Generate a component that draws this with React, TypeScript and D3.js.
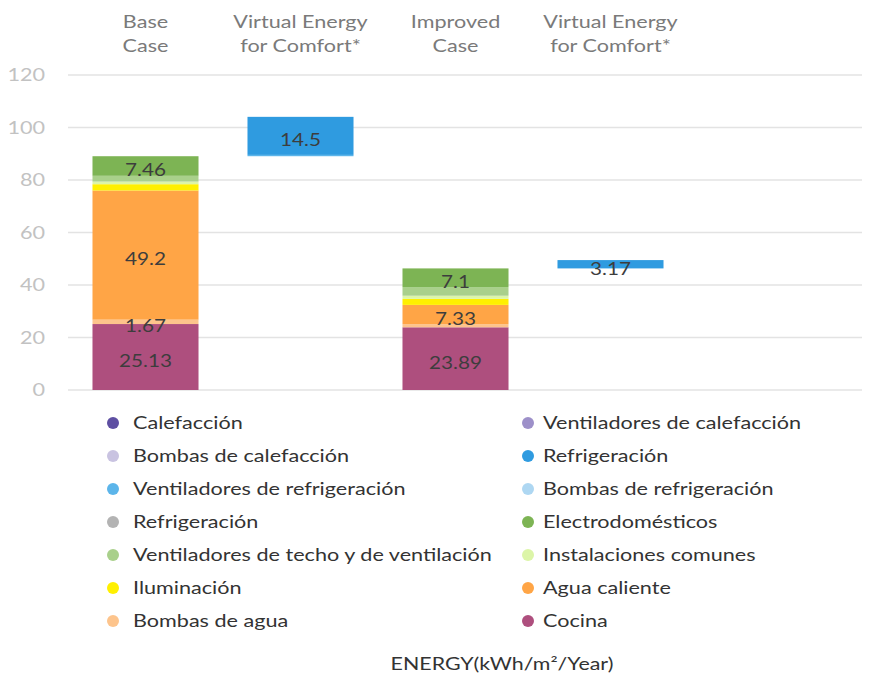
import { useRef, useEffect } from "react";
import * as d3 from "d3";

const CATEGORIES = ["base", "virtual1", "improved", "virtual2"];
const HEADERS = [
  ["Base", "Case"],
  ["Virtual Energy", "for Comfort*"],
  ["Improved", "Case"],
  ["Virtual Energy", "for Comfort*"],
];

const SERIES = [
  "Calefacción",
  "Ventiladores de calefacción",
  "Bombas de calefacción",
  "Refrigeración",
  "Ventiladores de refrigeración",
  "Bombas de refrigeración",
  "Refrigeración ",
  "Electrodomésticos",
  "Ventiladores de techo y de ventilación",
  "Instalaciones comunes",
  "Iluminación",
  "Agua caliente",
  "Bombas de agua",
  "Cocina",
];

const COLORS = [
  "#5e4fa2", "#9d90c9", "#c9c3e1", "#2f9be0", "#5cb5ea", "#aed7f2", "#b3b3b3",
  "#7db454", "#a9d08b", "#dcf5a8", "#fff000", "#ffa546", "#fdc48c", "#ae4f7e",
];

// values per series, in SERIES order
const BASE_CASE = [0, 0, 0, 0, 0, 0, 0, 7.46, 2.2, 1.0, 2.4, 49.2, 1.67, 25.13];
const VIRTUAL_1 = [0, 0, 0, 14.5, 0.5, 0, 0, 0, 0, 0, 0, 0, 0, 0];
const IMPROVED_CASE = [0, 0, 0, 0, 0, 0, 0, 7.1, 3.3, 1.2, 2.3, 7.33, 1.2, 23.89];
const VIRTUAL_2 = [0, 0, 0, 3.17, 0, 0, 0, 0, 0, 0, 0, 0, 0, 0];

const LABELED = ["Refrigeración", "Electrodomésticos", "Agua caliente", "Bombas de agua", "Cocina"];
const Y_TICKS = [0, 20, 40, 60, 80, 100, 120];

export default function App() {
  const svgRef = useRef<SVGSVGElement>(null);

  useEffect(() => {
    if (!svgRef.current) return;
    const W = 877, H = 680;
    const svg = d3.select(svgRef.current);
    svg.selectAll("*").remove();
    svg.attr("width", W).attr("height", H);

    const font = "Lato, 'Open Sans', sans-serif";
    const SX = 1.2; // the source text is a bit wider than Lato

    // text placed at (x,y), stretched horizontally
    const addText = (
      parent: d3.Selection<any, any, any, any>,
      x: number, y: number, txt: string,
      size: number, fill: string, anchor = "start", sx = SX,
    ) =>
      parent.append("text")
        .attr("transform", `translate(${x},${y}) scale(${sx},1)`)
        .attr("dy", "0.35em")
        .attr("text-anchor", anchor)
        .style("font-family", font).style("font-size", `${size}px`).style("fill", fill)
        .text(txt);

    const valuesByCat = [BASE_CASE, VIRTUAL_1, IMPROVED_CASE, VIRTUAL_2];
    const rows = CATEGORIES.map((c, i) => {
      const r: Record<string, number | string> = { cat: c };
      SERIES.forEach((s, j) => (r[s] = valuesByCat[i][j]));
      return r;
    });
    // virtual bars float on top of the preceding case
    const offsets = [0, d3.sum(BASE_CASE), 0, d3.sum(IMPROVED_CASE)];

    const x = d3.scaleBand<string>().domain(CATEGORIES).range([68, 688])
      .paddingInner(0.316).paddingOuter(0.158);
    const y = d3.scaleLinear().domain([0, 120]).range([390, 75]);

    // grid
    svg.append("g").selectAll("line").data(Y_TICKS).join("line")
      .attr("x1", 68).attr("x2", 862)
      .attr("y1", (d) => y(d)).attr("y2", (d) => y(d))
      .attr("stroke", "#e3e3e3").attr("stroke-width", 1.5);

    const axis = svg.append("g");
    Y_TICKS.forEach((t) => addText(axis, 45, y(t), String(t), 18, "#c2c2c2", "end"));

    // headers
    const hdr = svg.append("g");
    HEADERS.forEach((lines, i) => {
      const cx = x(CATEGORIES[i])! + x.bandwidth() / 2;
      lines.forEach((t, k) => addText(hdr, cx, 22 + k * 24, t, 18, "#7a7a7a", "middle"));
    });

    const stack = d3.stack<Record<string, number | string>>()
      .keys([...SERIES].reverse())
      .value((d, k) => d[k] as number);
    const layers = stack(rows);

    const bars = svg.append("g");
    layers.forEach((layer) => {
      const color = COLORS[SERIES.indexOf(layer.key)];
      bars.append("g").selectAll("rect")
        .data(layer.map((d, i) => ({ d, i })).filter(({ d }) => d[1] - d[0] > 0))
        .join("rect")
        .attr("x", ({ i }) => x(CATEGORIES[i])!)
        .attr("width", x.bandwidth())
        .attr("y", ({ d, i }) => y(d[1] + offsets[i]))
        .attr("height", ({ d }) => y(d[0]) - y(d[1]))
        .attr("fill", color);
    });

    const labels = svg.append("g");
    layers.forEach((layer) => {
      if (!LABELED.includes(layer.key)) return;
      layer.forEach((d, i) => {
        const v = d[1] - d[0];
        if (v < 1.5) return;
        const cx = x(CATEGORIES[i])! + x.bandwidth() / 2;
        const cy = y((d[0] + d[1]) / 2 + offsets[i]) + 4;
        addText(labels, cx, cy, String(+v.toFixed(2)), 18, "#3d3d3d", "middle", 1.15);
      });
    });

    // legend
    const legend = svg.append("g");
    SERIES.forEach((s, i) => {
      const col = i % 2, row = Math.floor(i / 2);
      const gx = col === 0 ? 113 : 528;
      const gy = 423 + row * 33;
      legend.append("circle").attr("cx", gx).attr("cy", gy).attr("r", 6).attr("fill", COLORS[i]);
      addText(legend, gx + (col === 0 ? 20 : 15), gy, s.trim(), 18, "#333");
    });

    addText(svg, 502, 664, "ENERGY(kWh/m²/Year)", 17, "#333", "middle", 1.26);
  }, []);

  return <svg ref={svgRef} style={{ position: "absolute", left: 0, top: 0, background: "#fff" }} />;
}
